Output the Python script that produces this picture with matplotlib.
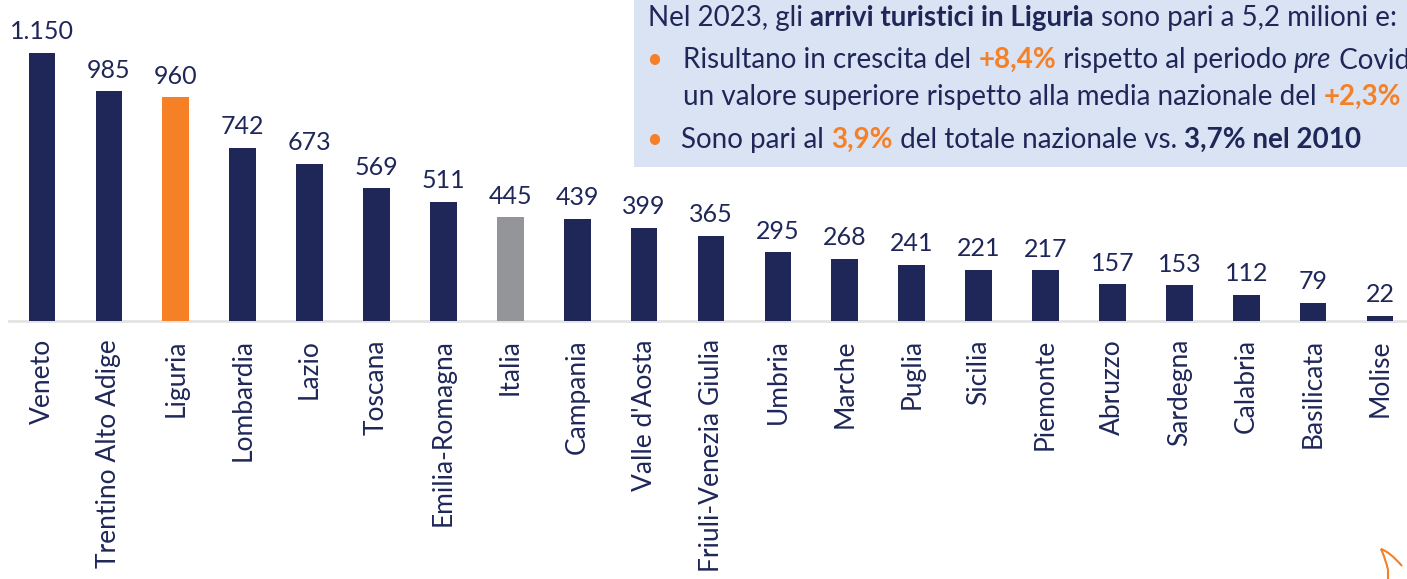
import matplotlib
matplotlib.use("Agg")
import matplotlib.pyplot as plt
from matplotlib.patches import Rectangle
from matplotlib.path import Path
from matplotlib.patches import PathPatch

regioni = ["Veneto", "Trentino Alto Adige", "Liguria", "Lombardia", "Lazio", "Toscana",
           "Emilia-Romagna", "Italia", "Campania", "Valle d'Aosta", "Friuli-Venezia Giulia",
           "Umbria", "Marche", "Puglia", "Sicilia", "Piemonte", "Abruzzo", "Sardegna",
           "Calabria", "Basilicata", "Molise"]
valori = [1150, 985, 960, 742, 673, 569, 511, 445, 439, 399, 365, 295, 268, 241, 221,
          217, 157, 153, 112, 79, 22]
etichette = ["1.150", "985", "960", "742", "673", "569", "511", "445", "439", "399", "365",
             "295", "268", "241", "221", "217", "157", "153", "112", "79", "22"]

NAVY = "#1f2759"
ORANGE = "#f58025"
GRAY = "#939598"
BOX = "#dae3f3"
FONT = "Lato"

colori = [ORANGE if r == "Liguria" else GRAY if r == "Italia" else NAVY for r in regioni]

W, H = 1407, 579
fig = plt.figure(figsize=(W / 100, H / 100), dpi=100)
ax = fig.add_axes([0, (H - 321) / H, 1, 321 / H])

x = list(range(len(regioni)))
ax.bar(x, valori, width=0.4, color=colori, zorder=3)
for xi, v, lab in zip(x, valori, etichette):
    ax.annotate(lab, (xi, v), xytext=(0, 7), textcoords="offset points",
                ha="center", va="bottom", fontsize=18, color=NAVY, family=FONT)

ax.set_xlim(-0.628, -0.628 + W / 66.9)
ax.set_ylim(0, 321 / 0.233)
for s in ["top", "right", "left"]:
    ax.spines[s].set_visible(False)
ax.spines["bottom"].set_color("#e3e3e3")
ax.spines["bottom"].set_linewidth(2)
ax.spines["bottom"].set_bounds(-0.5, 21)
ax.set_yticks([])
ax.set_xticks(x)
ax.set_xticklabels(regioni, rotation=90, fontsize=19, color=NAVY, family=FONT)
ax.tick_params(axis="x", length=0, pad=13)

# riquadro di testo
fig.patches.append(Rectangle((634 / W, (H - 167) / H), (W - 634) / W, 167 / H,
                             transform=fig.transFigure, facecolor=BOX, edgecolor="none",
                             zorder=0))

renderer = fig.canvas.get_renderer()


def riga(x0, y0, pezzi, size=20):
    xx = x0
    for testo, col, peso, stile in pezzi:
        t = fig.text(xx / W, (H - y0) / H, testo, color=col, fontsize=size, family=FONT,
                     fontweight=peso, fontstyle=stile, va="center", ha="left")
        bb = t.get_window_extent(renderer)
        xx += bb.width


riga(648, 18, [("Nel 2023, gli ", NAVY, "normal", "normal"),
               ("arrivi turistici in Liguria", NAVY, "bold", "normal"),
               (" sono pari a 5,2 milioni e:", NAVY, "normal", "normal")])
riga(646, 60, [("•", ORANGE, "normal", "normal")])
riga(683, 60, [("Risultano in crescita del ", NAVY, "normal", "normal"),
               ("+8,4%", ORANGE, "bold", "normal"),
               (" rispetto al periodo ", NAVY, "normal", "normal"),
               ("pre", NAVY, "normal", "italic"),
               (" Covid,", NAVY, "normal", "normal")])
riga(683, 97, [("un valore superiore rispetto alla media nazionale del ", NAVY, "normal", "normal"),
               ("+2,3%", ORANGE, "bold", "normal")])
riga(646, 140, [("•", ORANGE, "normal", "normal")])
riga(681, 140, [("Sono pari al ", NAVY, "normal", "normal"),
                ("3,9%", ORANGE, "bold", "normal"),
                (" del totale nazionale vs. ", NAVY, "normal", "normal"),
                ("3,7% nel 2010", NAVY, "bold", "normal")])

# piccola freccia decorativa in basso a destra
verts = [(1402 / W, (H - 566) / H), (1390 / W, (H - 552) / H), (1381 / W, (H - 549) / H),
         (1386 / W, (H - 560) / H), (1388 / W, (H - 570) / H), (1388 / W, (H - 579) / H)]
codes = [Path.MOVETO, Path.CURVE3, Path.CURVE3, Path.CURVE3, Path.CURVE3, Path.LINETO]
fig.patches.append(PathPatch(Path(verts, codes), transform=fig.transFigure,
                             facecolor="none", edgecolor=ORANGE, linewidth=1.5))

fig.savefig("out.png", dpi=100)
